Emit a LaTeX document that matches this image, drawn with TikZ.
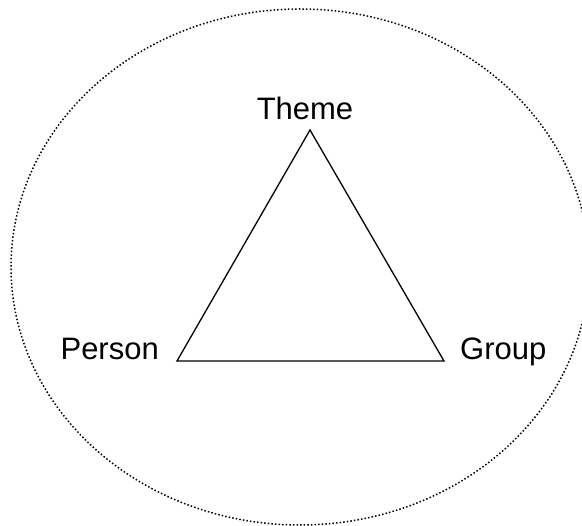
\documentclass[tikz,border=0pt]{standalone}
\usepackage{fontspec}
\setmainfont{Liberation Sans}
\begin{document}
\begin{tikzpicture}[x=1pt,y=-1pt,
  lbl/.style={inner sep=0pt, font=\fontsize{31}{35}\selectfont},
  edge/.style={line width=1.3pt, line join=miter},
  halo/.style={line width=1.5pt, dash pattern=on 1.5pt off 2.1pt}]
\useasboundingbox (0,0) rectangle (582,526);
\begin{scope}
\clip (0,0) rectangle (582,526);
\draw[halo] (300,267) ellipse [x radius=289, y radius=258];
\end{scope}
\coordinate (T) at (310,130);
\coordinate (P) at (177,361);
\coordinate (G) at (444,361);
\draw[edge] (T) -- (G) -- (P) -- cycle;
\node[lbl, anchor=base] (theme) at (305,120) {Theme};
\node[lbl, anchor=base east] (person) at (159,360) {Person};
\node[lbl, anchor=base west] (group) at (460,360) {Group};
\end{tikzpicture}
\end{document}
